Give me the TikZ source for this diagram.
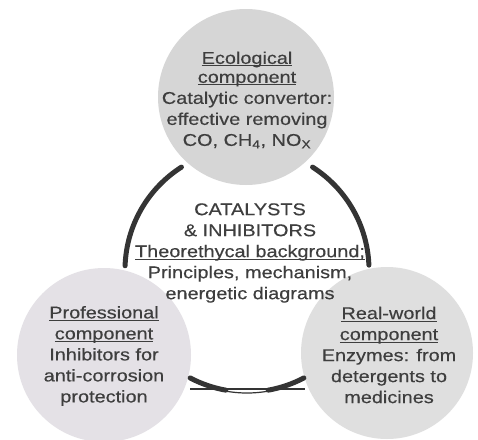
\documentclass[tikz,border=0pt]{standalone}
\usepackage{fontspec}
\setmainfont{Liberation Sans}[FakeStretch=1.17,FakeBold=0.4]
\newsavebox\ulbox
\newcommand\myul[1]{\sbox\ulbox{#1}\rlap{\rule[-2.6pt]{\wd\ulbox}{1.1pt}}\usebox\ulbox}
\definecolor{txt}{RGB}{62,62,62}
\definecolor{arcc}{RGB}{52,52,52}
\definecolor{ctop}{RGB}{214,214,214}
\definecolor{cleft}{RGB}{228,225,230}
\definecolor{cright}{RGB}{223,223,223}
\tikzset{
  blob/.style={circle, inner sep=0pt, draw=none},
  lbl/.style={align=center, text=txt, font=\fontsize{17}{21}\selectfont, inner sep=0pt},
  ringline/.style={draw=arcc, line width=5pt, line cap=round},
  thinline/.style={draw=arcc, line width=1.2pt}
}
\begin{document}
\begin{tikzpicture}[x=1pt,y=-1pt]
\useasboundingbox (0,0) rectangle (478,439);
\fill[white] (0,0) rectangle (478,439);
% circles
\node[blob, fill=ctop, minimum size=176pt] (topc) at (246,97) {};
\node[blob, fill=cleft, minimum size=174pt] (leftc) at (104,355) {};
\node[blob, fill=cright, minimum size=172pt] (rightc) at (387,353) {};
% ring arcs
\coordinate (ring) at (247,270);
\draw[ringline] (ring) ++(182:122) arc[start angle=182, end angle=237.5, radius=122];
\draw[ringline] (ring) ++(-57.5:122) arc[start angle=-57.5, end angle=-2.3, radius=122];
\draw[ringline] (ring) ++(117.8:122) arc[start angle=117.8, end angle=100, radius=122];
\draw[ringline] (ring) ++(80:122) arc[start angle=80, end angle=62.2, radius=122];
\draw[thinline] (ring) ++(100:123) arc[start angle=100, end angle=80, radius=123];
\coordinate (bl) at (190,389);
\coordinate (br) at (305,389);
\draw[thinline] (bl) -- (br);
% texts
\node[lbl] (toptext) at (247,100) {\myul{Ecological}\\[-2pt] \myul{component}\\ Catalytic convertor:\\ effective removing\\ CO, CH\textsubscript{4}, NO\textsubscript{X}};
\node[lbl] (centertext) at (250,253) {CATALYSTS\\ \& INHIBITORS\\ \myul{Theorethycal background;}\\ Principles, mechanism,\\ energetic diagrams};
\node[lbl] (lefttext) at (104,356) {\myul{Professional}\\ \myul{component}\\ Inhibitors for\\ anti-corrosion\\ protection};
\node[lbl] (righttext) at (389,355) {\myul{Real-world}\\ \myul{component}\\ Enzymes: from\\ detergents to\\ medicines};
\end{tikzpicture}
\end{document}
